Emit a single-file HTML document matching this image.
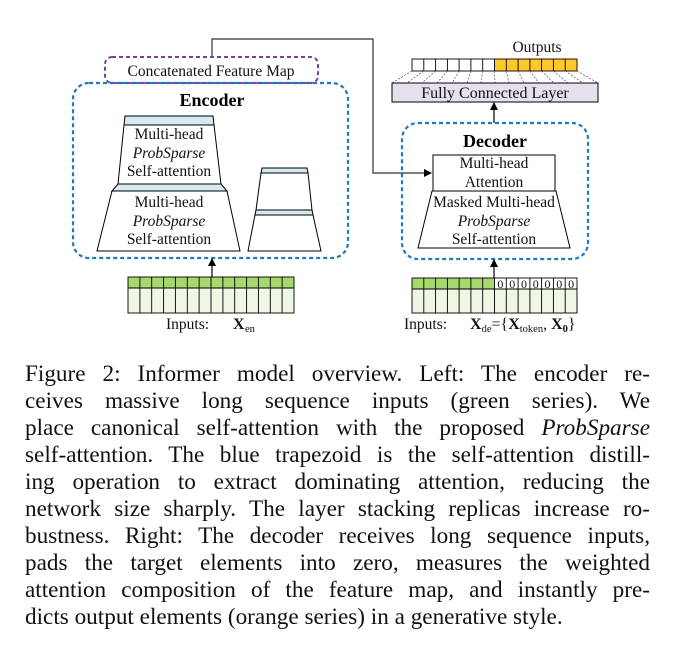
<!DOCTYPE html>
<html><head><meta charset="utf-8"><style>
body{margin:0;background:#fff;width:675px;height:654px;overflow:hidden;position:relative;font-family:"Liberation Serif",serif;}
svg{position:absolute;left:0;top:0}
.cap{position:absolute;left:25px;width:625px;font-size:23.2px;line-height:27px;text-align:justify;text-align-last:justify;white-space:nowrap;color:#111}
.last{text-align-last:left}
</style></head><body>
<svg width="675" height="350" viewBox="0 0 675 350" font-family="Liberation Serif, serif" fill="none">
<defs><marker id="ah" markerWidth="8" markerHeight="8" refX="7" refY="4" orient="auto" markerUnits="userSpaceOnUse"><path d="M0,0 L8,4 L0,8 Z" fill="#000"/></marker></defs>
<polyline points="212,57 212,39 373,39 373,173 431,173" stroke="#333" stroke-width="1.2" marker-end="url(#ah)"/>
<rect x="105" y="57" width="213" height="26" rx="7" stroke="#7B3FA0" stroke-width="2" stroke-dasharray="4,3"/>
<text x="211" y="76" font-size="15.5" fill="#111" text-anchor="middle">Concatenated Feature Map</text>
<rect x="73" y="83" width="275" height="175" rx="16" stroke="#1F78C1" stroke-width="2.2" stroke-dasharray="4,3"/>
<text x="212" y="106" font-size="18" font-weight="bold" fill="#000" text-anchor="middle">Encoder</text>
<polygon points="125,116 213,116 214,125 124,125" fill="#D4E9F0" stroke="#000"/>
<polygon points="124,125 214,125 221,184 118,184" fill="#fff" stroke="#000"/>
<polygon points="118,184 221,184 227,191 112,191" fill="#D4E9F0" stroke="#000"/>
<polygon points="112,191 227,191 240,251 97,251" fill="#fff" stroke="#000"/>
<g font-size="15.5" fill="#111" text-anchor="middle">
<text x="169" y="139">Multi-head</text><text x="169" y="158" font-style="italic">ProbSparse</text><text x="169" y="176">Self-attention</text>
<text x="169" y="207">Multi-head</text><text x="169" y="226" font-style="italic">ProbSparse</text><text x="169" y="244">Self-attention</text>
</g>
<polygon points="262,168 307,168 308,173 261,173" fill="#D4E9F0" stroke="#000"/>
<polygon points="261,173 308,173 312,210 256,210" fill="#fff" stroke="#000"/>
<polygon points="256,210 312,210 313,215 255,215" fill="#D4E9F0" stroke="#000"/>
<polygon points="255,215 313,215 321,251 248,251" fill="#fff" stroke="#000"/>
<line x1="212" y1="277" x2="212" y2="259" stroke="#000" stroke-width="1.2" marker-end="url(#ah)"/>
<rect x="128" y="277" width="166" height="11" fill="#A6D86E"/>
<rect x="128" y="288" width="166" height="25" fill="#EEF6E4"/>
<g stroke="#000" stroke-width="0.9">
<rect x="128" y="277" width="166" height="36"/><line x1="128" y1="288" x2="294" y2="288"/>
<path d="M139.9,277V313M151.7,277V313M163.6,277V313M175.4,277V313M187.3,277V313M199.1,277V313M211,277V313M222.9,277V313M234.7,277V313M246.6,277V313M258.4,277V313M270.3,277V313M282.1,277V313"/>
</g>
<text x="166" y="329" font-size="15.5" fill="#111">Inputs:</text>
<text x="233" y="329" font-size="16" font-weight="bold" fill="#111">X</text><text x="245" y="332" font-size="10.5" fill="#111">en</text>
<text x="537" y="52" font-size="15.5" fill="#111" text-anchor="middle">Outputs</text>
<rect x="494.5" y="59" width="82.5" height="12" fill="#FFC82A"/>
<g stroke="#000" stroke-width="0.9">
<rect x="412" y="59" width="165" height="12"/>
<path d="M423.8,59V71M435.6,59V71M447.4,59V71M459.1,59V71M470.9,59V71M482.7,59V71M494.5,59V71M506.3,59V71M518.1,59V71M529.9,59V71M541.6,59V71M553.4,59V71M565.2,59V71"/>
</g>
<g stroke="#555" stroke-width="0.7" stroke-dasharray="2,1.5">
<path d="M412,71L392,83M423.8,71L407,83M435.6,71L422,83M447.4,71L437,83M459.1,71L452,83M470.9,71L467,83M482.7,71L481,83M494.5,71L495,83M506.3,71L509,83M518.1,71L524,83M529.9,71L539,83M541.6,71L554,83M553.4,71L568,83M565.2,71L583,83M577,71L598,83"/>
</g>
<rect x="392" y="83" width="206" height="19" fill="#E6DFEE" stroke="#000"/>
<text x="495" y="98" font-size="16" fill="#111" text-anchor="middle">Fully Connected Layer</text>
<line x1="494" y1="123" x2="494" y2="103" stroke="#000" stroke-width="1.2" marker-end="url(#ah)"/>
<rect x="402" y="123" width="186" height="136" rx="16" stroke="#1F78C1" stroke-width="2.2" stroke-dasharray="4,3"/>
<text x="495" y="147" font-size="18" font-weight="bold" fill="#000" text-anchor="middle">Decoder</text>
<rect x="433" y="155" width="122" height="36" fill="#fff" stroke="#000"/>
<polygon points="432,191 556,191 570,248 418,248" fill="#fff" stroke="#000"/>
<g font-size="15.5" fill="#111" text-anchor="middle">
<text x="494" y="168">Multi-head</text><text x="494" y="187">Attention</text>
<text x="494" y="207">Masked Multi-head</text><text x="494" y="226" font-style="italic">ProbSparse</text><text x="494" y="244">Self-attention</text>
</g>
<line x1="494" y1="278" x2="494" y2="260" stroke="#000" stroke-width="1.2" marker-end="url(#ah)"/>
<rect x="412" y="278" width="82.5" height="11" fill="#A6D86E"/>
<rect x="412" y="289" width="165" height="24" fill="#EEF6E4"/>
<g stroke="#000" stroke-width="0.9">
<rect x="412" y="278" width="165" height="35"/><line x1="412" y1="289" x2="577" y2="289"/>
<path d="M423.8,278V313M435.6,278V313M447.4,278V313M459.1,278V313M470.9,278V313M482.7,278V313M494.5,278V313M506.3,278V313M518.1,278V313M529.9,278V313M541.6,278V313M553.4,278V313M565.2,278V313"/>
</g>
<g font-size="12" fill="#111" text-anchor="middle">
<text x="500.4" y="288">0</text><text x="512.2" y="288">0</text><text x="524" y="288">0</text><text x="535.8" y="288">0</text><text x="547.5" y="288">0</text><text x="559.3" y="288">0</text><text x="571.1" y="288">0</text>
</g>
<text x="404" y="329" font-size="15.5" fill="#111">Inputs:</text>
<text x="470" y="329" font-size="16" fill="#111"><tspan font-weight="bold">X</tspan><tspan font-size="10.5" dy="3">de</tspan><tspan dy="-3">={</tspan><tspan font-weight="bold">X</tspan><tspan font-size="10.5" dy="3">token</tspan><tspan dy="-3">, </tspan><tspan font-weight="bold">X</tspan><tspan font-size="10.5" dy="3" font-weight="bold">0</tspan><tspan dy="-3">}</tspan></text>
</svg>
<div class="cap" style="top:361px">Figure 2: Informer model overview. Left: The encoder re-</div>
<div class="cap" style="top:388px">ceives massive long sequence inputs (green series). We</div>
<div class="cap" style="top:415px">place canonical self-attention with the proposed <i>ProbSparse</i></div>
<div class="cap" style="top:442px">self-attention. The blue trapezoid is the self-attention distill-</div>
<div class="cap" style="top:469px">ing operation to extract dominating attention, reducing the</div>
<div class="cap" style="top:496px">network size sharply. The layer stacking replicas increase ro-</div>
<div class="cap" style="top:523px">bustness. Right: The decoder receives long sequence inputs,</div>
<div class="cap" style="top:550px">pads the target elements into zero, measures the weighted</div>
<div class="cap" style="top:577px">attention composition of the feature map, and instantly pre-</div>
<div class="cap last" style="top:604px">dicts output elements (orange series) in a generative style.</div>
</body></html>
